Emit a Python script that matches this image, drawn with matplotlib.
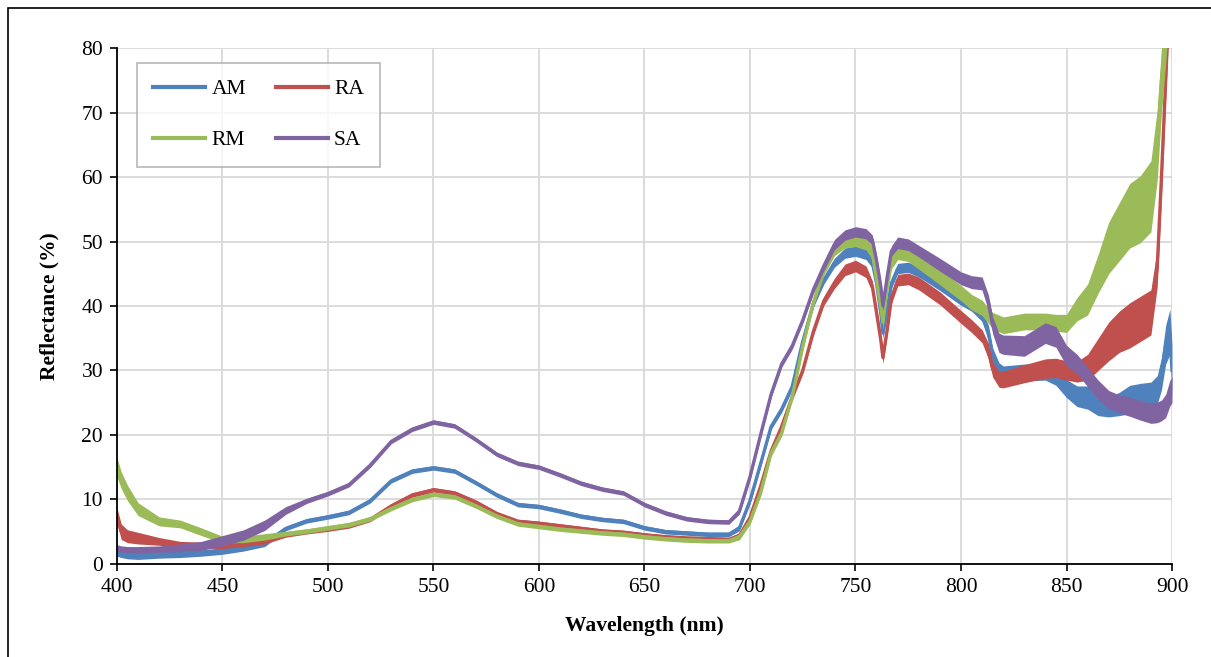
import matplotlib
matplotlib.use('Agg')
import matplotlib.pyplot as plt
from matplotlib.patches import Rectangle
import numpy as np

plt.rcParams['font.family'] = ['Liberation Serif', 'DejaVu Serif']

# 波长 (nm)
wavelength = [400, 402, 405, 410, 420, 430, 440, 450, 460, 470,
              480, 490, 500, 510, 520, 530, 540, 550, 560, 570,
              580, 590, 600, 610, 620, 630, 640, 650, 660, 670,
              680, 690, 695, 700, 705, 710, 715, 720, 725, 730,
              735, 740, 745, 750, 755, 758, 760, 762, 763, 765,
              767, 770, 775, 780, 790, 800, 805, 810, 813, 815,
              818, 820, 830, 840, 845, 850, 855, 860, 865, 870,
              875, 880, 885, 890, 893, 895, 897, 899, 900]

# 反射率 (%)
am = [1.8, 1.6, 1.4, 1.3, 1.4, 1.5, 1.7, 2.0, 2.5, 3.2,
      5.5, 6.7, 7.3, 8.0, 9.8, 12.9, 14.4, 14.9, 14.4, 12.6,
      10.7, 9.2, 8.9, 8.2, 7.4, 6.9, 6.6, 5.6, 5.0, 4.8,
      4.6, 4.6, 5.6, 9.8, 15.5, 21.3, 24.0, 27.5, 34.5, 40.3,
      44.0, 46.7, 48.2, 48.5, 48.0, 46.7, 43.5, 38.9, 35.8, 39.4,
      43.5, 45.8, 46.0, 45.3, 43.3, 41.0, 40.1, 38.5, 35.8, 32.3,
      30.0, 29.5, 29.7, 29.8, 29.0, 27.2, 26.0, 25.8, 24.8, 24.4,
      24.8, 25.5, 25.8, 26.0, 27.0, 29.5, 34.0, 36.0, 30.0]

ra = [7.5, 5.0, 4.3, 4.0, 3.5, 3.0, 2.9, 2.9, 3.2, 3.6,
      4.5, 5.0, 5.4, 5.9, 6.9, 9.0, 10.7, 11.5, 11.0, 9.6,
      7.8, 6.6, 6.3, 5.9, 5.5, 5.1, 4.9, 4.5, 4.2, 4.0,
      3.9, 3.8, 4.4, 7.2, 12.0, 17.5, 21.3, 25.9, 30.0, 36.0,
      40.8, 43.5, 45.6, 46.2, 45.3, 43.0, 38.9, 34.7, 32.0, 36.3,
      41.2, 44.0, 44.2, 43.5, 41.2, 38.3, 36.9, 35.3, 33.0, 30.2,
      28.6, 28.6, 29.5, 30.3, 30.4, 30.0, 29.8, 30.5, 32.5, 34.5,
      36.0, 37.0, 38.0, 39.0, 46.0, 60.0, 75.0, 90.0, 95.0]

rm = [15.0, 13.0, 11.0, 8.5, 6.6, 6.2, 5.0, 3.8, 3.8, 4.2,
      4.7, 5.1, 5.6, 6.1, 7.0, 8.6, 10.0, 10.8, 10.4, 9.0,
      7.4, 6.2, 5.8, 5.4, 5.1, 4.8, 4.6, 4.2, 3.9, 3.7,
      3.6, 3.6, 4.2, 6.6, 11.0, 17.2, 20.3, 25.9, 33.7, 40.5,
      45.6, 48.7, 50.0, 50.2, 49.7, 48.2, 44.0, 39.9, 37.5, 43.0,
      46.7, 48.2, 48.0, 46.8, 44.5, 42.0, 40.6, 39.7, 38.5, 37.8,
      37.3, 37.0, 37.6, 37.6, 37.4, 37.3, 39.5, 41.0, 45.0, 49.0,
      51.5, 54.0, 55.0, 57.0, 65.0, 75.0, 82.0, 90.0, 95.0]

sa = [2.5, 2.3, 2.2, 2.2, 2.3, 2.5, 2.8, 3.6, 4.5, 6.0,
      8.3, 9.8, 10.9, 12.3, 15.3, 19.0, 20.9, 22.0, 21.4, 19.3,
      17.0, 15.6, 15.0, 13.8, 12.5, 11.6, 11.0, 9.2, 7.9, 7.0,
      6.6, 6.5, 8.2, 13.5, 20.0, 26.3, 31.0, 33.8, 37.8, 42.5,
      46.2, 49.5, 51.0, 51.5, 51.2, 50.2, 47.0, 43.0, 40.0, 44.5,
      48.5, 49.8, 49.5, 48.5, 46.4, 44.3, 43.7, 43.5, 40.5, 37.0,
      34.3, 34.0, 33.8, 35.8, 35.2, 32.3, 31.0, 29.0, 27.0, 25.5,
      24.8, 24.4, 23.8, 23.4, 23.5, 23.8, 24.5, 26.5, 27.0]

# 噪声带半宽
am_spread = [0.6, 0.6, 0.6, 0.6, 0.5, 0.5, 0.5, 0.5, 0.5, 0.5,
             0.35, 0.35, 0.35, 0.35, 0.35, 0.35, 0.35, 0.35, 0.35, 0.35,
             0.35, 0.35, 0.35, 0.35, 0.35, 0.35, 0.35, 0.35, 0.35, 0.35,
             0.35, 0.35, 0.45, 0.45, 0.45, 0.45, 0.5, 0.5, 0.5, 0.5,
             0.6, 0.7, 0.8, 0.8, 0.8, 0.8, 0.8, 0.8, 0.8, 0.8,
             0.8, 0.8, 0.8, 0.8, 0.9, 0.9, 0.9, 0.9, 1.2, 1.2,
             1.2, 1.2, 1.3, 1.3, 1.3, 1.4, 1.6, 1.8, 1.8, 1.6,
             1.8, 2.2, 2.2, 2.2, 2.2, 2.5, 3.0, 3.5, 4.0]
ra_spread = [1.2, 1.2, 1.0, 0.9, 0.6, 0.5, 0.5, 0.5, 0.5, 0.5,
             0.35, 0.35, 0.35, 0.35, 0.35, 0.35, 0.35, 0.35, 0.35, 0.35,
             0.35, 0.35, 0.35, 0.35, 0.35, 0.35, 0.35, 0.35, 0.35, 0.35,
             0.35, 0.35, 0.45, 0.45, 0.45, 0.5, 0.5, 0.5, 0.5, 0.6,
             0.7, 0.8, 0.9, 0.9, 0.9, 0.9, 0.9, 0.9, 0.9, 0.9,
             0.9, 0.9, 0.9, 1.0, 1.0, 1.0, 1.0, 1.0, 1.2, 1.2,
             1.2, 1.3, 1.4, 1.5, 1.5, 1.5, 1.6, 2.0, 2.5, 3.0,
             3.2, 3.5, 3.5, 3.5, 3.0, 3.0, 3.0, 3.0, 3.0]
rm_spread = [1.5, 1.3, 1.2, 1.0, 0.7, 0.6, 0.6, 0.5, 0.5, 0.5,
             0.35, 0.35, 0.35, 0.35, 0.35, 0.35, 0.35, 0.35, 0.35, 0.35,
             0.35, 0.35, 0.35, 0.35, 0.35, 0.35, 0.35, 0.35, 0.35, 0.35,
             0.35, 0.35, 0.45, 0.45, 0.45, 0.5, 0.5, 0.5, 0.5, 0.6,
             0.8, 0.9, 1.0, 1.0, 1.0, 1.0, 1.0, 1.0, 1.0, 1.0,
             1.0, 1.0, 1.1, 1.1, 1.2, 1.2, 1.2, 1.2, 1.2, 1.2,
             1.3, 1.3, 1.3, 1.3, 1.3, 1.4, 1.8, 2.4, 3.0, 4.0,
             4.5, 5.0, 5.2, 5.5, 5.5, 5.0, 4.5, 4.0, 4.0]
sa_spread = [0.5, 0.5, 0.5, 0.5, 0.5, 0.6, 0.7, 0.8, 0.8, 0.8,
             0.6, 0.4, 0.35, 0.35, 0.35, 0.35, 0.35, 0.35, 0.35, 0.35,
             0.35, 0.35, 0.35, 0.35, 0.35, 0.35, 0.35, 0.35, 0.35, 0.35,
             0.35, 0.35, 0.45, 0.45, 0.45, 0.5, 0.5, 0.5, 0.5, 0.6,
             0.7, 0.8, 0.8, 0.8, 0.8, 0.8, 0.8, 0.8, 0.8, 0.8,
             0.8, 0.9, 0.9, 0.9, 1.0, 1.0, 1.0, 1.0, 1.2, 1.3,
             1.5, 1.5, 1.6, 1.6, 1.6, 1.6, 1.5, 1.5, 1.5, 1.4,
             1.4, 1.5, 1.5, 1.6, 1.6, 1.6, 1.8, 2.0, 2.0]

labels = ['AM', 'RA', 'RM', 'SA']
colors = ['#4F81BD', '#C0504D', '#9BBB59', '#8064A2']
series = [am, ra, rm, sa]
spreads = [am_spread, ra_spread, rm_spread, sa_spread]

x_ticks = [400, 450, 500, 550, 600, 650, 700, 750, 800, 850, 900]
y_ticks = [0, 10, 20, 30, 40, 50, 60, 70, 80]

fs = 15.5

fig = plt.figure(figsize=(12.11, 6.57), dpi=100)
ax = fig.add_axes([0.0966, 0.1416, 0.8712, 0.7853])

wl = np.array(wavelength)
lines = {}
for name, c, y, s in zip(labels, colors, series, spreads):
    y = np.array(y)
    s = np.array(s)
    ax.fill_between(wl, y - s, y + s, color=c, lw=0, zorder=3)
    lines[name], = ax.plot(wl, y, color=c, lw=2.4, label=name, zorder=3,
                           solid_joinstyle='round')

ax.set_xlim(400, 900)
ax.set_ylim(0, 80)
ax.set_xticks(x_ticks)
ax.set_yticks(y_ticks)
ax.grid(True, color='#D9D9D9', lw=1.3, zorder=0)
ax.set_axisbelow(True)

for side in ['top', 'right']:
    ax.spines[side].set_visible(False)
for side in ['left', 'bottom']:
    ax.spines[side].set_linewidth(1.3)
    ax.spines[side].set_zorder(5)

ax.tick_params(direction='out', length=5, width=1.2, labelsize=fs, pad=5)

ax.set_xlabel('Wavelength (nm)', fontsize=fs, fontweight='bold', labelpad=14)
ax.set_ylabel('Reflectance (%)', fontsize=fs, fontweight='bold', labelpad=16)

# 图例按行排列: AM RA / RM SA
order = ['AM', 'RM', 'RA', 'SA']
leg = ax.legend([lines[k] for k in order], order, ncol=2, loc='upper left',
                bbox_to_anchor=(0.019, 0.971),
                fontsize=fs, frameon=True, fancybox=False, edgecolor='#A6A6A6',
                handlelength=2.4, handletextpad=0.3, columnspacing=1.4,
                labelspacing=1.45, borderpad=0.75, borderaxespad=0)
leg.get_frame().set_linewidth(1.2)
for h in leg.get_lines():
    h.set_linewidth(3)

# 外框
fig.patches.append(Rectangle((8 / 1211, -0.1), 1.2, (657 - 8) / 657 + 0.1,
                             transform=fig.transFigure, fill=False,
                             edgecolor='black', lw=1.2))

plt.savefig('out.png', dpi=100)
